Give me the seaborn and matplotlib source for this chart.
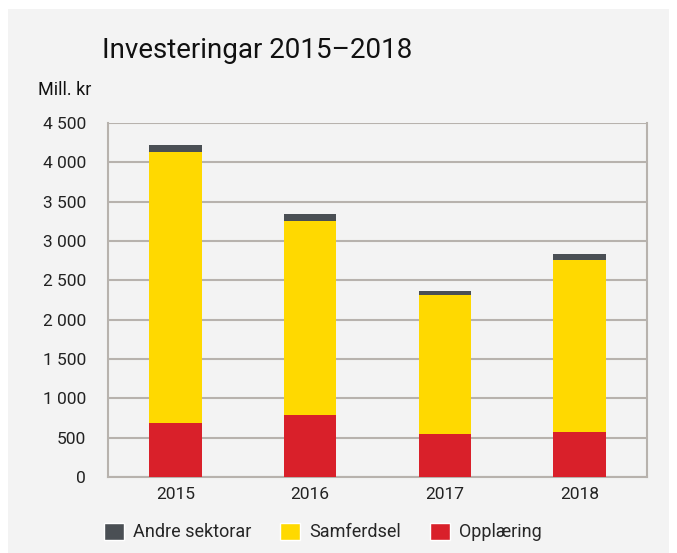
import matplotlib
matplotlib.use("Agg")
import matplotlib.pyplot as plt
import seaborn as sns
import pandas as pd
import numpy as np
from matplotlib.patches import Rectangle, Patch

years = ["2015", "2016", "2017", "2018"]
opplaering = [685, 790, 545, 570]
samferdsel = [3450, 2465, 1765, 2190]
andre = [90, 90, 55, 80]
yticks = [0, 500, 1000, 1500, 2000, 2500, 3000, 3500, 4000, 4500]
ytick_labels = ["0", "500", "1 000", "1 500", "2 000", "2 500", "3 000", "3 500", "4 000", "4 500"]

sns.set_theme(style="white")
plt.rcParams['font.family'] = ['Roboto', 'DejaVu Sans']

c_andre = "#4a4f54"
c_samf = "#ffd900"
c_oppl = "#d9202a"
grid_c = "#b7b2ad"
bg = "#f3f3f3"

df = pd.DataFrame({"year": years, "oppl": opplaering, "samf": samferdsel, "andre": andre})
df["s2"] = df["oppl"] + df["samf"]
df["s3"] = df["s2"] + df["andre"]

fig = plt.figure(figsize=(6.77, 5.53), dpi=100)
fig.patch.set_facecolor("white")
fig.patches.append(Rectangle((8/677, 0), 661/677, (553-9)/553, transform=fig.transFigure,
                             facecolor=bg, edgecolor="none", zorder=-10))
ax = fig.add_axes([108/677, (553-477)/553, (647-108)/677, (477-123)/553])
ax.set_facecolor(bg)

for col, c in [("s3", c_andre), ("s2", c_samf), ("oppl", c_oppl)]:
    sns.barplot(data=df, x="year", y=col, color=c, width=0.39, ax=ax,
                saturation=1, linewidth=0, zorder=3)

ax.set_ylim(0, 4500)
ax.set_xlim(-0.5, 3.5)
ax.set_yticks(yticks)
ax.set_yticklabels(ytick_labels, fontsize=12.5, color="#222222")
ax.set_xlabel("")
ax.set_ylabel("")
ax.set_xticks(range(4))
ax.set_xticklabels(years, fontsize=12.5, color="#222222")
ax.set_xticks([-0.5, 0.5, 1.5, 2.5, 3.5], minor=True)
ax.tick_params(axis="x", which="major", length=0, pad=7)
ax.tick_params(axis="x", which="minor", length=6, width=1.3, color=grid_c)
ax.tick_params(axis="y", which="major", length=8, width=1.3, color=grid_c, pad=8)
ax.yaxis.grid(True, color=grid_c, linewidth=1.5)
ax.set_axisbelow(True)
for s in ["left", "right", "bottom"]:
    ax.spines[s].set_visible(True)
    ax.spines[s].set_color(grid_c)
    ax.spines[s].set_linewidth(1.5)
ax.spines["top"].set_visible(False)

fig.text(102/677, 1 - 50/553, "Investeringar 2015\u20132018", fontsize=20,
         va="center", ha="left", color="#111111")
fig.text(38/677, 1 - 90/553, "Mill. kr", fontsize=13, va="center", ha="left", color="#111111")

handles = [Patch(facecolor=c_andre, label="Andre sektorar"),
           Patch(facecolor=c_samf, label="Samferdsel"),
           Patch(facecolor=c_oppl, label="Opplæring")]
fig.legend(handles=handles, loc="center left", bbox_to_anchor=(88/677, 1 - 532/553), ncol=3,
           frameon=False, fontsize=13, handlelength=1.1, handleheight=1.1, handletextpad=0.5,
           columnspacing=1.6)

fig.savefig("out.png", dpi=100, facecolor="white")
